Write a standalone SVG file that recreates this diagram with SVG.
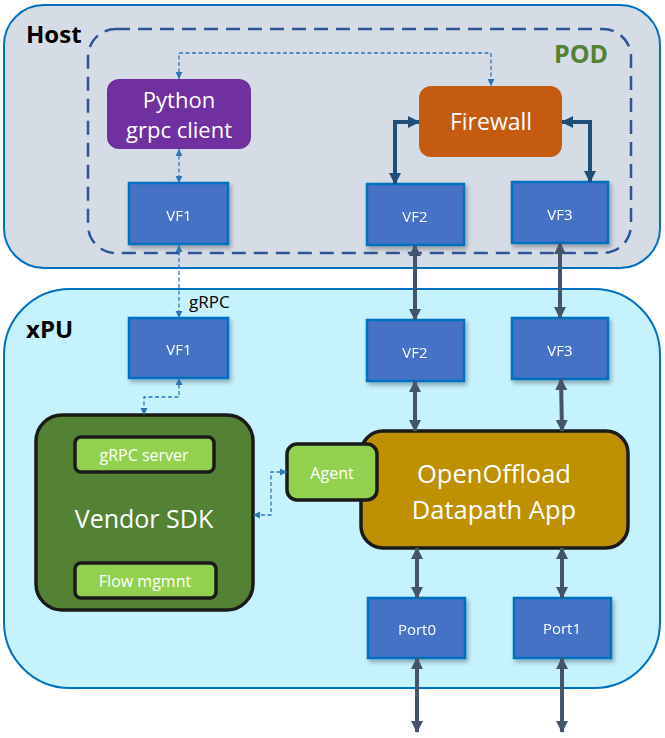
<svg xmlns="http://www.w3.org/2000/svg" width="665" height="738" viewBox="0 0 665 738">
<style>
text{font-family:"Open Sans","Noto Sans","Liberation Sans",sans-serif;text-anchor:middle;fill:#fff}
.vf{fill:#4472c4;stroke:#0070c0;stroke-width:2.5}
.vft{font-size:15px}
.thick{stroke:#44546a;stroke-width:4;fill:none;marker-start:url(#ah);marker-end:url(#ah)}
.thickd{stroke:#1f4e79;stroke-width:4;fill:none;marker-start:url(#ahd);marker-end:url(#ahd)}
.dash{stroke:#2e75b6;stroke-width:1.3;fill:none;stroke-dasharray:4 2.5;marker-start:url(#ahs);marker-end:url(#ahs)}
.lbl{font-weight:bold;fill:#000;text-anchor:start;font-size:24px}
.inner{fill:#92d050;stroke:#1a1a1a;stroke-width:3.5}
</style>
<defs>
<marker id="ah" markerUnits="userSpaceOnUse" markerWidth="14" markerHeight="14" viewBox="0 0 14 14" refX="11" refY="7" orient="auto-start-reverse"><path d="M0,1 L12,7 L0,13 Z" fill="#44546a"/></marker>
<marker id="ahd" markerUnits="userSpaceOnUse" markerWidth="14" markerHeight="14" viewBox="0 0 14 14" refX="11" refY="7" orient="auto-start-reverse"><path d="M0,1 L12,7 L0,13 Z" fill="#1f4e79"/></marker>
<marker id="ahs" markerUnits="userSpaceOnUse" markerWidth="8" markerHeight="8" viewBox="0 0 8 8" refX="7" refY="4" orient="auto-start-reverse"><path d="M0,0.5 L7,4 L0,7.5 Z" fill="#2e75b6"/></marker>
<filter id="sh" x="-10%" y="-10%" width="130%" height="130%"><feDropShadow dx="2" dy="3" stdDeviation="2" flood-color="#000" flood-opacity="0.3"/></filter>
</defs>

<g id="host">
<rect x="4" y="5" width="656" height="263" rx="40" fill="#d6dce5" stroke="#0070c0" stroke-width="2"/>
<text class="lbl" x="26" y="43">Host</text>
</g>
<g id="pod">
<rect x="88" y="29" width="543" height="224" rx="28" fill="none" stroke="#2f5597" stroke-width="2.5" stroke-dasharray="14 8"/>
<text class="lbl" x="554" y="63" style="fill:#548235;font-size:25px">POD</text>
</g>
<g id="xpu">
<rect x="4" y="289" width="656" height="399" rx="66" fill="#c5f2fd" stroke="#0070c0" stroke-width="2"/>
<text class="lbl" x="26" y="338">xPU</text>
</g>

<g id="python-client">
<rect x="107" y="79" width="144" height="70" rx="12" fill="#7030a0"/>
<text x="179" y="108" font-size="22">Python</text>
<text x="179" y="138" font-size="22">grpc client</text>
</g>
<g id="firewall">
<rect x="419" y="86" width="143" height="71" rx="12" fill="#c55a11"/>
<text x="491" y="130" font-size="23">Firewall</text>
</g>

<g id="host-vf1" filter="url(#sh)"><rect class="vf" x="129" y="183" width="99" height="61"/><text class="vft" x="179" y="221">VF1</text></g>
<g id="host-vf2" filter="url(#sh)"><rect class="vf" x="367" y="184" width="97" height="61"/><text class="vft" x="415" y="222">VF2</text></g>
<g id="host-vf3" filter="url(#sh)"><rect class="vf" x="512" y="182" width="96" height="61"/><text class="vft" x="560" y="220">VF3</text></g>

<g id="xpu-vf1" filter="url(#sh)"><rect class="vf" x="129" y="318" width="99" height="60"/><text class="vft" x="179" y="355">VF1</text></g>
<g id="xpu-vf2" filter="url(#sh)"><rect class="vf" x="367" y="320" width="97" height="61"/><text class="vft" x="415" y="358">VF2</text></g>
<g id="xpu-vf3" filter="url(#sh)"><rect class="vf" x="512" y="318" width="96" height="61"/><text class="vft" x="560" y="356">VF3</text></g>

<g id="vendor-sdk">
<rect x="36" y="415" width="217" height="195" rx="26" fill="#548235" stroke="#1a1a1a" stroke-width="3.5"/>
<text x="144" y="528" font-size="25">Vendor SDK</text>
</g>
<g id="grpc-server">
<rect class="inner" x="75" y="437" width="139" height="35" rx="6"/>
<text x="144" y="461" font-size="16">gRPC server</text>
</g>
<g id="flow-mgmnt">
<rect class="inner" x="75" y="563" width="141" height="35" rx="6"/>
<text x="145" y="587" font-size="16">Flow mgmnt</text>
</g>

<g id="openoffload">
<rect x="361" y="431" width="267" height="117" rx="22" fill="#bf9000" stroke="#1a1a1a" stroke-width="3.5"/>
<text x="494" y="483" font-size="25.5">OpenOffload</text>
<text x="494" y="519" font-size="25.5">Datapath App</text>
</g>
<g id="agent">
<rect class="inner" x="287" y="444" width="90" height="56" rx="10"/>
<text x="332" y="479" font-size="16">Agent</text>
</g>

<g id="port0" filter="url(#sh)"><rect class="vf" x="368" y="598" width="97" height="60"/><text class="vft" x="417" y="635">Port0</text></g>
<g id="port1" filter="url(#sh)"><rect class="vf" x="514" y="598" width="97" height="60"/><text class="vft" x="562" y="634">Port1</text></g>

<g id="connectors">
<path class="dash" d="M179,79 V53 H491 V86"/>
<path class="dash" d="M179,149 V183"/>
<path class="dash" d="M179,245 V318"/>
<text x="189" y="308" font-size="17" style="fill:#000;text-anchor:start">gRPC</text>
<path class="dash" d="M179,378 V397 H144 V415"/>
<path class="dash" d="M287,472 H271 V515 H253"/>
<path class="thickd" d="M419,122 H395 V184"/>
<path class="thickd" d="M562,122 H590 V182"/>
<path class="thick" d="M415,245 V320"/>
<path class="thick" d="M560,243 V318"/>
<path class="thick" d="M415,381 V431"/>
<path class="thick" d="M561,379 L562,431"/>
<path class="thick" d="M417,548 V598"/>
<path class="thick" d="M562,548 V598"/>
<path class="thick" d="M417,658 V732"/>
<path class="thick" d="M562,658 V732"/>
</g>
</svg>
